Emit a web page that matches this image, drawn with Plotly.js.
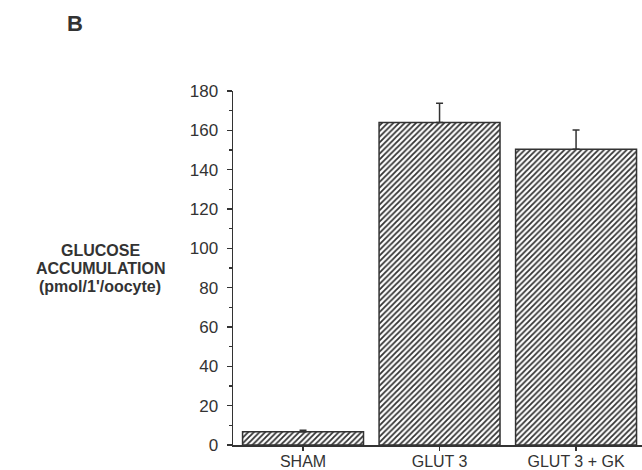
<!DOCTYPE html>
<html>
<head>
<meta charset="utf-8">
<script src="https://cdn.plot.ly/plotly-3.0.1.min.js"></script>
<style>html,body{margin:0;padding:0;background:#fff;}#chart{width:642px;height:470px;}</style>
</head>
<body>
<div id="chart"></div>
<script>
var categories = ["SHAM", "GLUT 3", "GLUT 3 + GK"];
var values = [6.7, 164, 150.4];
var errors = [0.8, 9.8, 9.8];
var yTickVals = [0, 20, 40, 60, 80, 100, 120, 140, 160, 180];
var titleLines = ["GLUCOSE", "ACCUMULATION", "(pmol/1'/oocyte)"];

var ink = "#333333";
var trace = {
  type: "bar",
  x: [0, 1, 2],
  y: values,
  width: 0.886,
  marker: {
    color: "#ffffff",
    line: {color: ink, width: 1.5},
    pattern: {shape: "/", fgcolor: "#333333", bgcolor: "#ffffff", size: 4, solidity: 0.45}
  },
  error_y: {type: "data", symmetric: false, array: errors, arrayminus: [0, 0, 0], color: ink, thickness: 1.5, width: 3.5},
  hoverinfo: "none"
};

var lineY = [0.5495, 0.4979, 0.448];
var annotations = titleLines.map(function (t, i) {
  return {text: "<b>" + t + "</b>", xref: "paper", yref: "paper", x: -0.325, y: lineY[i],
    xanchor: "center", yanchor: "middle", showarrow: false, font: {size: 16, color: "#333333"}};
});
annotations.push({text: "<b>B</b>", xref: "paper", yref: "paper", x: -0.4108, y: 1.1918,
  xanchor: "left", yanchor: "middle", showarrow: false, font: {size: 22, color: "#333333"}});

var layout = {
  width: 642, height: 470,
  margin: {l: 233, r: 0, t: 91, b: 24.5},
  paper_bgcolor: "#ffffff", plot_bgcolor: "#ffffff",
  showlegend: false,
  font: {family: "Liberation Sans, Arial, sans-serif", color: "#333333", size: 14},
  xaxis: {
    range: [-0.513, 2.483],
    tickvals: [0, 1, 2], ticktext: categories,
    showline: true, linecolor: ink, linewidth: 1.5,
    ticks: "outside", ticklen: 4, tickcolor: ink, tickwidth: 1.2,
    ticklabelstandoff: -3,
    showgrid: false, zeroline: false,
    tickfont: {size: 16, color: "#333333"}
  },
  yaxis: {
    range: [0, 180],
    tickvals: yTickVals,
    showline: true, linecolor: ink, linewidth: 1.5,
    ticks: "outside", ticklen: 5, tickcolor: ink, tickwidth: 1.2,
    minor: {dtick: 10, ticks: "outside", ticklen: 3, tickcolor: ink, tickwidth: 1.2, showgrid: false},
    ticklabelstandoff: 5,
    showgrid: false, zeroline: false,
    tickfont: {size: 17, color: "#333333"}
  },
  annotations: annotations
};

Plotly.newPlot("chart", [trace], layout, {displayModeBar: false, staticPlot: true});
</script>
</body>
</html>
